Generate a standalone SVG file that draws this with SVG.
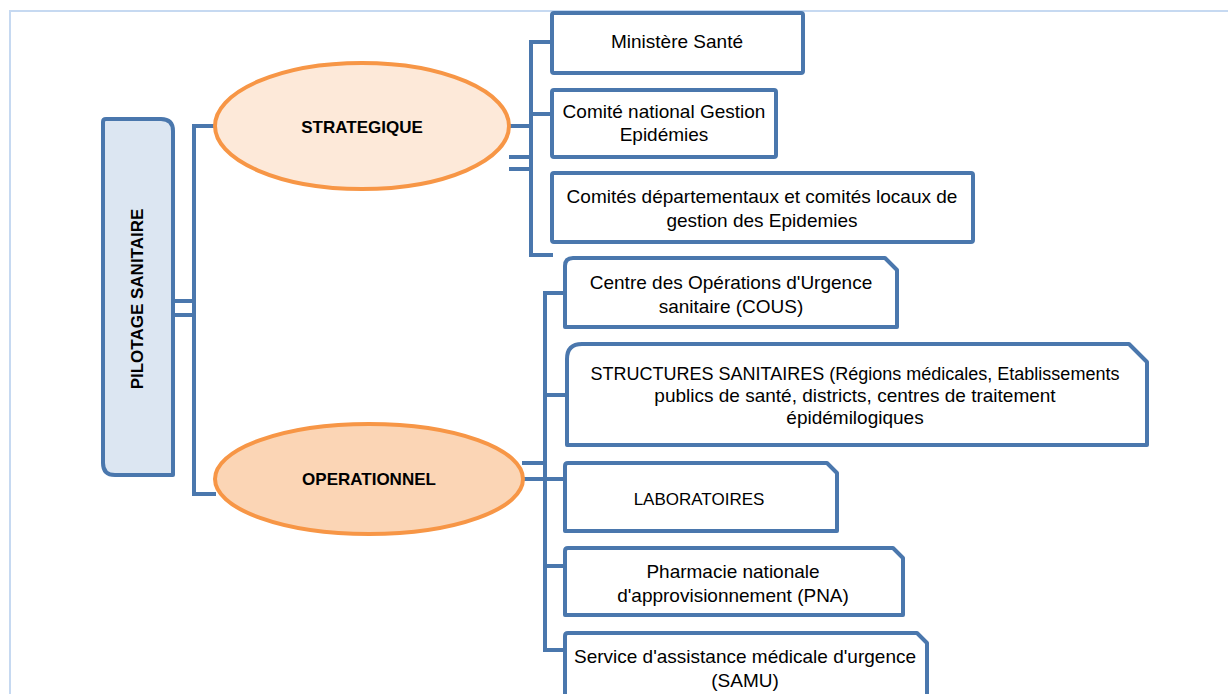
<svg xmlns="http://www.w3.org/2000/svg" width="1228" height="694" viewBox="0 0 1228 694">
<style>
.frame{fill:none;stroke:#c6d9f1;stroke-width:2}
.box{fill:#ffffff;stroke:#4a77ad;stroke-width:4;stroke-linejoin:round}
.root{fill:#dce6f2;stroke:#4a77ad;stroke-width:4;stroke-linejoin:round}
.ell{stroke:#f79646;stroke-width:4}
.con{fill:none;stroke:#4a77ad;stroke-width:4;stroke-linejoin:miter}
text{font-family:"Liberation Sans",Arial,sans-serif;fill:#000;text-anchor:middle}
.t{font-size:19px}
.b{font-size:17px;font-weight:bold}
</style>
<rect class="frame" x="10" y="11" width="1230" height="700"/>
<g id="connectors">
  <path class="con" d="M216,126 H194 V494 H216"/>
  <path class="con" d="M172,301 H194 M172,315 H194"/>
  <path class="con" d="M552,42 H531 V255 H553 M531,114 H552 M510,126 H531 M509,157 H531 M509,169 H531"/>
  <path class="con" d="M565,293 H545 V650 H565 M545,395 H567 M522,463 H545 M522,479 H565 M545,566 H565"/>
</g>
<g id="pilotage">
  <path class="root" d="M103,122 Q103,119 106,119 H161 Q173,119 173,131 V475 H115 Q103,475 103,463 Z"/>
  <text class="b" transform="translate(143,299) rotate(-90)">PILOTAGE SANITAIRE</text>
</g>
<g id="strategique">
  <ellipse class="ell" cx="362" cy="126" rx="147" ry="63" fill="#fde9d9"/>
  <text class="b" x="362" y="133">STRATEGIQUE</text>
</g>
<g id="operationnel">
  <ellipse class="ell" cx="369" cy="479" rx="154" ry="55" fill="#fbd5b5"/>
  <text class="b" x="369" y="485">OPERATIONNEL</text>
</g>
<g id="ministere">
  <rect class="box" x="552" y="13" width="251" height="60" rx="2"/>
  <text class="t" x="677" y="48">Ministère Santé</text>
</g>
<g id="comite-national">
  <rect class="box" x="552" y="90" width="224" height="67" rx="2"/>
  <text class="t" x="664" y="118">Comité national Gestion</text>
  <text class="t" x="664" y="141">Epidémies</text>
</g>
<g id="comites-departementaux">
  <rect class="box" x="552" y="173" width="421" height="69" rx="2"/>
  <text class="t" x="762" y="203">Comités départementaux et comités locaux de</text>
  <text class="t" x="762" y="227">gestion des Epidemies</text>
</g>
<g id="cous">
  <path class="box" d="M565,266 Q565,258 573,258 H885 L897,270 V327 H565 Z"/>
  <text class="t" x="731" y="289">Centre des Opérations d'Urgence</text>
  <text class="t" x="731" y="313">sanitaire (COUS)</text>
</g>
<g id="structures">
  <path class="box" d="M567,359 Q567,344 582,344 H1129 L1147,362 V445 H567 Z"/>
  <text class="t" x="855" y="380" style="font-size:18px">STRUCTURES SANITAIRES (Régions médicales, Etablissements</text>
  <text class="t" x="855" y="402">publics de santé, districts, centres de traitement</text>
  <text class="t" x="855" y="424">épidémilogiques</text>
</g>
<g id="laboratoires">
  <path class="box" d="M565,466 Q565,463 568,463 H827 L837,473 V531 H565 Z"/>
  <text class="t" x="699" y="505" style="font-size:17px">LABORATOIRES</text>
</g>
<g id="pna">
  <path class="box" d="M565,551 Q565,548 568,548 H893 L903,558 V615 H565 Z"/>
  <text class="t" x="733" y="578">Pharmacie nationale</text>
  <text class="t" x="733" y="602">d'approvisionnement (PNA)</text>
</g>
<g id="samu">
  <path class="box" d="M565,636 Q565,633 568,633 H917 L927,643 V720 H565 Z"/>
  <text class="t" x="745" y="663">Service d'assistance médicale d'urgence</text>
  <text class="t" x="745" y="687">(SAMU)</text>
</g>
</svg>
